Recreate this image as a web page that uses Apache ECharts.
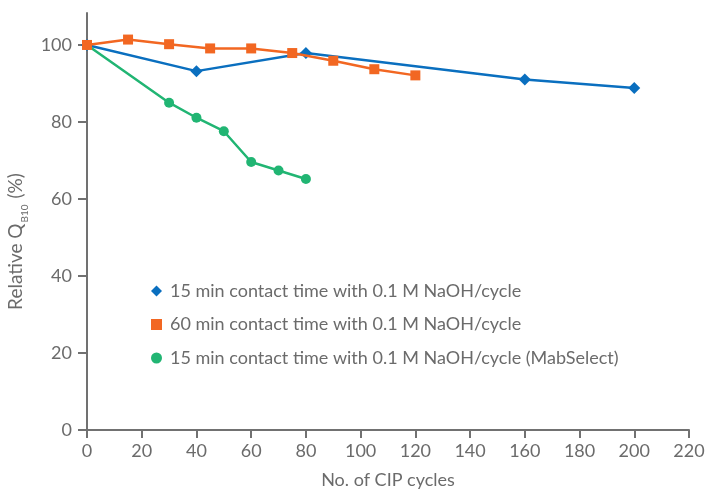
<!DOCTYPE html>
<html>
<head>
<meta charset="utf-8">
<script src="https://cdn.jsdelivr.net/npm/echarts@6/dist/echarts.min.js"></script>
<style>html,body{margin:0;padding:0;background:#fff;}#c{width:707px;height:489px;}</style>
</head>
<body>
<div id="c"></div>
<script>
var seriesNames = [
  '15 min contact time with 0.1 M NaOH/cycle',
  '60 min contact time with 0.1 M NaOH/cycle',
  '15 min contact time with 0.1 M NaOH/cycle (MabSelect)'
];
var blueX = [0, 40, 80, 160, 200];
var blueY = [100, 93.2, 97.9, 91.0, 88.8];
var orangeX = [0, 15, 30, 45, 60, 75, 90, 105, 120];
var orangeY = [100, 101.4, 100.2, 99.1, 99.1, 97.9, 95.9, 93.7, 92.1];
var greenX = [0, 30, 40, 50, 60, 70, 80];
var greenY = [100, 85.0, 81.1, 77.6, 69.6, 67.4, 65.2];
var xTicks = [0, 20, 40, 60, 80, 100, 120, 140, 160, 180, 200, 220];
var yTicks = [0, 20, 40, 60, 80, 100];

function pairs(xs, ys) { return xs.map(function (x, i) { return [x, ys[i]]; }); }

var axisColor = '#717171';
var textColor = '#6b6b6b';
var font = 'Lato';

var chart = echarts.init(document.getElementById('c'), null, {renderer: 'canvas'});
chart.setOption({
  animation: false,
  grid: {left: 87, right: 18, top: 13, bottom: 59, containLabel: false, outerBoundsMode: 'none'},
  legend: {
    orient: 'vertical',
    left: 146,
    top: 277,
    itemWidth: 11,
    itemHeight: 11,
    itemGap: 15.5,
    textStyle: {fontFamily: font, fontSize: 18, lineHeight: 18, color: textColor, padding: [0, 0, 0, 3]},
    data: [
      {name: seriesNames[0], icon: 'diamond'},
      {name: seriesNames[1], icon: 'rect'},
      {name: seriesNames[2], icon: 'circle'}
    ]
  },
  xAxis: {
    type: 'value',
    min: 0, max: 220, interval: 20,
    name: 'No. of CIP cycles',
    nameLocation: 'middle',
    nameGap: 41,
    nameTextStyle: {fontFamily: font, fontSize: 18, color: textColor},
    axisLine: {show: true, lineStyle: {color: axisColor, width: 2}},
    axisTick: {show: true, length: 8, lineStyle: {color: axisColor, width: 2}},
    axisLabel: {fontFamily: font, fontSize: 18, color: textColor, margin: 12,
      customValues: xTicks},
    splitLine: {show: false}
  },
  yAxis: {
    type: 'value',
    min: 0, max: 108.3,
    name: '{a|Relative Q}{b|B10}{a| (%)}',
    nameLocation: 'middle',
    nameGap: 46,
    nameTextStyle: {
      fontFamily: font, fontSize: 19, color: textColor,
      padding: [0, 40, 0, 0],
      rich: {
        a: {fontFamily: font, fontSize: 19, color: textColor},
        b: {fontFamily: font, fontSize: 10, color: textColor, verticalAlign: 'bottom', padding: [0, 1, -4, 1]}
      }
    },
    axisLine: {show: true, lineStyle: {color: axisColor, width: 2}},
    axisTick: {show: true, length: 9, lineStyle: {color: axisColor, width: 2}, customValues: yTicks},
    axisLabel: {fontFamily: font, fontSize: 18, color: textColor, margin: 15, customValues: yTicks},
    splitLine: {show: false}
  },
  series: [
    {
      name: seriesNames[0], type: 'line', data: pairs(blueX, blueY),
      symbol: 'diamond', symbolSize: 12, z: 2,
      itemStyle: {color: '#0a6fbf'}, lineStyle: {color: '#0a6fbf', width: 2.5}
    },
    {
      name: seriesNames[2], type: 'line', data: pairs(greenX, greenY),
      symbol: 'circle', symbolSize: 10, z: 3,
      itemStyle: {color: '#21b573'}, lineStyle: {color: '#21b573', width: 2.5}
    },
    {
      name: seriesNames[1], type: 'line', data: pairs(orangeX, orangeY),
      symbol: 'rect', symbolSize: 10, z: 4,
      itemStyle: {color: '#f26722'}, lineStyle: {color: '#f26722', width: 2.5}
    }
  ]
});
</script>
</body>
</html>
